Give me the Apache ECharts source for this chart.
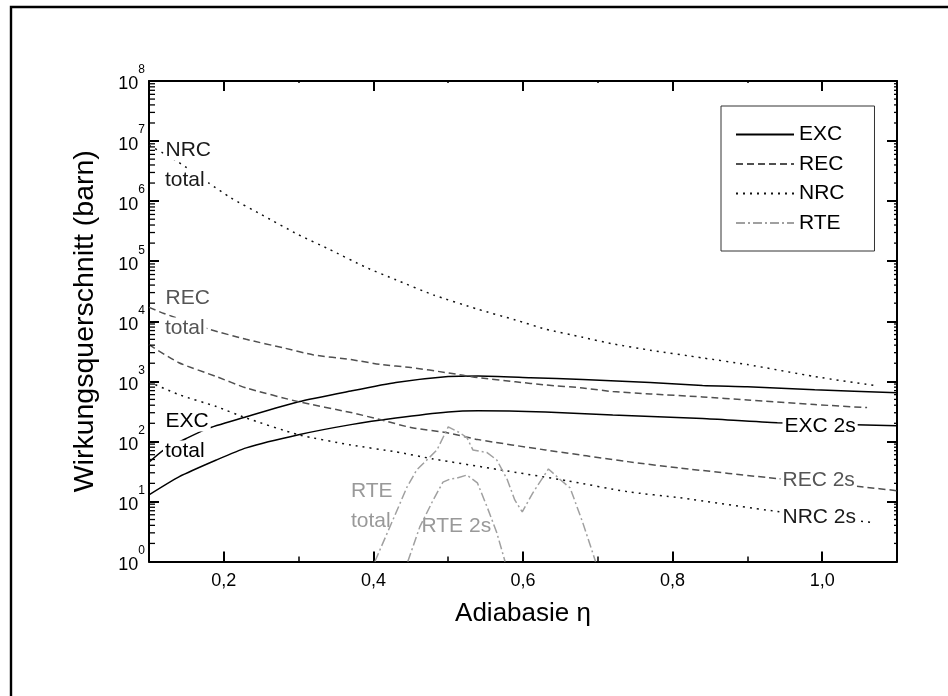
<!DOCTYPE html>
<html><head><meta charset="utf-8">
<script src="https://cdn.jsdelivr.net/npm/echarts@6/dist/echarts.min.js"></script>
<style>html,body{margin:0;padding:0;background:#fff}#c{width:948px;height:696px}</style>
</head><body><div id="c"></div>
<script>
// ---- data ----
const excTotalEta = [0.10,0.12,0.15,0.18,0.23,0.30,0.37,0.43,0.50,0.54,0.61,0.68,0.77,0.84,0.90,0.99,1.10];
const excTotal    = [45,72,112,166,257,457,690,955,1200,1230,1150,1070,955,850,810,725,645];
const exc2sEta    = [0.10,0.14,0.19,0.23,0.30,0.37,0.43,0.50,0.54,0.63,0.72,0.84,0.94,1.10];
const exc2s       = [12.9,25.7,49,78,129,190,245,309,324,309,275,240,204,182];
const recTotalEta = [0.10,0.12,0.18,0.23,0.28,0.32,0.37,0.41,0.45,0.50,0.54,0.59,0.63,0.68,0.72,0.77,0.84,0.90,0.99,1.06];
const recTotal    = [17000,13500,7400,5000,3600,2750,2300,1900,1700,1380,1150,980,870,775,675,615,550,490,410,365];
const rec2sEta    = [0.10,0.14,0.19,0.23,0.30,0.37,0.41,0.45,0.50,0.54,0.63,0.74,0.81,0.94,1.055,1.10];
const rec2s       = [4070,2040,1200,776,457,302,229,170,138,107,72,46,36,24,17.4,15.1];
const nrcTotalEta = [0.10,0.12,0.14,0.18,0.21,0.25,0.30,0.34,0.39,0.43,0.48,0.54,0.59,0.63,0.68,0.72,0.77,0.84,0.90,0.99,1.07];
const nrcTotal    = [8.5e6,6.2e6,4.4e6,2.0e6,1.12e6,6.0e5,2.75e5,1.6e5,7.9e4,4.9e4,2.75e4,1.58e4,1.05e4,7400,5400,4200,3300,2450,1900,1200,850];
const nrc2sEta    = [0.10,0.14,0.19,0.23,0.30,0.37,0.43,0.48,0.57,0.66,0.74,0.81,0.94,1.07];
const nrc2s       = [980,600,380,245,129,87,67,51,33.5,22,14.5,11.5,6.8,4.4];
const rteTotalEta = [0.402,0.422,0.445,0.458,0.485,0.500,0.516,0.525,0.533,0.552,0.565,0.579,0.589,0.599,0.613,0.634,0.650,0.663,0.680,0.697];
const rteTotal    = [1.0,3.76,17.4,33.5,72,174,138,115,72,65,49,23,10.6,6.7,13.8,34.7,23,16.8,4.4,1.0];
const rte2sEta    = [0.446,0.462,0.480,0.493,0.503,0.512,0.525,0.539,0.552,0.565,0.576];
const rte2s       = [1.0,3.76,10.6,21,23.7,24.5,27.5,20.4,8.1,3.0,1.0];

const xMajorTicks = [0.2,0.4,0.6,0.8,1.0];
const xMinorTicks = [0.1,0.3,0.5,0.7,0.9,1.1];
const yDecades = [1,10,100,1e3,1e4,1e5,1e6,1e7];
const yMultipliers = [2,3,4,5,6,7,8,9];
const yMinorTicks = [];
yDecades.forEach(d => yMultipliers.forEach(m => yMinorTicks.push(m * d)));

const legendNames = ['EXC','REC','NRC','RTE'];
const FONT = "'Liberation Sans', Arial, sans-serif";

const zip = (a, b) => a.map((v, i) => [v, b[i]]);

const styles = {
  EXC: {color: '#000000', type: 'solid'},
  REC: {color: '#505050', type: [7, 4]},
  NRC: {color: '#111111', type: [2, 5]},
  RTE: {color: '#a0a0a0', type: [9, 3, 2, 3]}
};
function lineSeries(name, eta, vals, smooth) {
  const s = styles[name];
  return {
    name: name, type: 'line', xAxisIndex: 0, yAxisIndex: 0,
    data: zip(eta, vals), symbol: 'none', showSymbol: false, smooth: smooth,
    clip: true, z: 3,
    lineStyle: {color: s.color, width: 1.5, type: s.type},
    itemStyle: {color: s.color}
  };
}

const xBase = {type: 'value', min: 0.1, max: 1.1, gridIndex: 0, splitLine: {show: false}};
const blk = '#000';

const chart = echarts.init(document.getElementById('c'), null, {renderer: 'canvas'});
chart.setOption({
  animation: false,
  backgroundColor: '#fff',
  grid: {left: 149, right: 51, top: 81, bottom: 134.5, containLabel: false},
  legend: {
    data: legendNames, orient: 'vertical', left: 721, top: 106,
    itemWidth: 58, itemHeight: 14, itemGap: 8.5,
    padding: [18, 30, 17.5, 14],
    borderColor: '#333', borderWidth: 1, backgroundColor: '#fff',
    itemStyle: {opacity: 0},
    textStyle: {fontSize: 21, color: '#000', fontFamily: FONT},
    selectedMode: false
  },
  xAxis: [
    Object.assign({}, xBase, {
      position: 'bottom',
      axisLine: {show: true, onZero: false, lineStyle: {color: blk, width: 2}},
      axisTick: {show: true, inside: true, length: 10, customValues: xMajorTicks, lineStyle: {color: blk, width: 2}},
      axisLabel: {show: true, customValues: xMajorTicks, margin: 11, fontSize: 18, color: blk, fontFamily: FONT,
        formatter: v => v.toFixed(1).replace('.', ',')},
      name: 'Adiabasie \u03b7', nameLocation: 'middle', nameGap: 39,
      nameTextStyle: {fontSize: 26, color: blk, fontFamily: FONT}
    }),
    Object.assign({}, xBase, {
      position: 'bottom',
      axisLine: {show: false, onZero: false},
      axisTick: {show: true, inside: true, length: 5, customValues: xMinorTicks, lineStyle: {color: blk, width: 1.5}},
      axisLabel: {show: false}
    }),
    Object.assign({}, xBase, {
      position: 'top',
      axisLine: {show: true, onZero: false, lineStyle: {color: blk, width: 2}},
      axisTick: {show: true, inside: true, length: 10, customValues: xMajorTicks, lineStyle: {color: blk, width: 2}},
      axisLabel: {show: false}
    }),
    Object.assign({}, xBase, {
      position: 'top',
      axisLine: {show: false, onZero: false},
      axisTick: {show: true, inside: true, length: 2, customValues: xMinorTicks, lineStyle: {color: blk, width: 1.5}},
      axisLabel: {show: false}
    })
  ],
  yAxis: [
    {
      type: 'log', logBase: 10, min: 1, max: 1e8, splitNumber: 8, position: 'left',
      splitLine: {show: false},
      axisLine: {show: true, onZero: false, lineStyle: {color: blk, width: 2}},
      axisTick: {show: true, inside: true, length: 10, lineStyle: {color: blk, width: 2}},
      axisLabel: {
        show: true, margin: 4, color: blk, fontFamily: FONT,
        formatter: v => '{b|10}{e|' + Math.round(Math.log10(v)) + '}',
        rich: {
          b: {fontSize: 18, color: blk, fontFamily: FONT, padding: [7, 0, 0, 0]},
          e: {fontSize: 12, color: blk, fontFamily: FONT, padding: [0, 0, 22, 0]}
        }
      },
      name: 'Wirkungsquerschnitt (barn)', nameLocation: 'middle', nameGap: 49,
      nameTextStyle: {fontSize: 28.5, color: blk, fontFamily: FONT}
    },
    {
      type: 'log', logBase: 10, min: 1, max: 1e8, splitNumber: 8, position: 'right',
      splitLine: {show: false},
      axisLine: {show: true, onZero: false, lineStyle: {color: blk, width: 2}},
      axisTick: {show: true, inside: true, length: 10, lineStyle: {color: blk, width: 2}},
      axisLabel: {show: false}
    }
  ],
  series: [
    lineSeries('EXC', excTotalEta, excTotal, 0.2),
    lineSeries('EXC', exc2sEta, exc2s, 0.2),
    lineSeries('REC', recTotalEta, recTotal, 0.2),
    lineSeries('REC', rec2sEta, rec2s, 0.2),
    lineSeries('NRC', nrcTotalEta, nrcTotal, 0.2),
    lineSeries('NRC', nrc2sEta, nrc2s, 0.2),
    lineSeries('RTE', rteTotalEta, rteTotal, false),
    lineSeries('RTE', rte2sEta, rte2s, false),
    {
      type: 'custom', name: 'minorTicks', xAxisIndex: 0, yAxisIndex: 0, silent: true, clip: false, z: 4,
      data: yMinorTicks.map(v => [0.1, v]),
      renderItem: (params, api) => {
        const v = api.value(1);
        const pL = api.coord([0.1, v]);
        const pR = api.coord([1.1, v]);
        return {type: 'group', children: [
          {type: 'line', shape: {x1: pL[0], y1: pL[1], x2: pL[0] + 6, y2: pL[1]}, style: {stroke: blk, lineWidth: 1.3}},
          {type: 'line', shape: {x1: pR[0], y1: pR[1], x2: pR[0] - 3, y2: pR[1]}, style: {stroke: blk, lineWidth: 1.3}}
        ]};
      }
    }
  ],
  graphic: [
    {type: 'polyline', shape: {points: [[11, 1400], [11, 7], [1400, 7]]}, style: {fill: 'none', stroke: '#000', lineWidth: 2.4}, z: 0, silent: true},
    ...[
      ['NRC', 165.5, 150, '#1a1a1a', true],
      ['total', 165, 180, '#1a1a1a', true],
      ['REC', 165.5, 298, '#555555', true],
      ['total', 165, 328, '#555555', true],
      ['EXC', 165.5, 421, '#000000', true],
      ['total', 165, 451, '#000000', true],
      ['RTE', 351, 491, '#999999', false],
      ['total', 351, 521, '#999999', false],
      ['RTE 2s', 421.5, 526, '#999999', false],
      ['EXC 2s', 784.5, 426, '#000000', true],
      ['REC 2s', 782.5, 480, '#555555', true],
      ['NRC 2s', 782.5, 517, '#1a1a1a', true]
    ].map(([t, x, y, c, bg]) => ({
      type: 'text', x: x - (bg ? 2 : 0), y: y, z: 100, silent: true,
      style: {text: t, fill: c, font: '21px ' + FONT, verticalAlign: 'middle', align: 'left',
        backgroundColor: bg ? '#fff' : null, padding: bg ? [0, 2, 0, 2] : 0}
    }))
  ]
});
</script>
</body></html>
